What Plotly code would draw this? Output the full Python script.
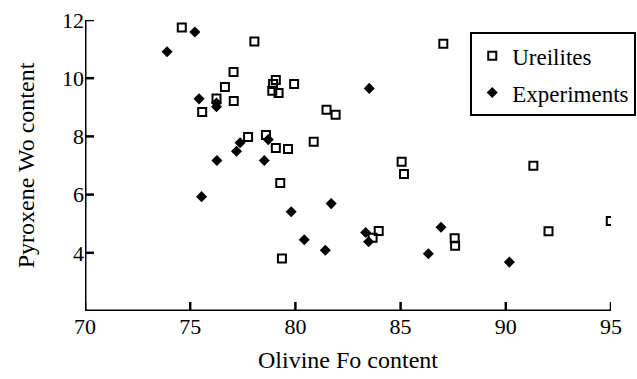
import plotly.graph_objects as go

ure_x = [74.6, 78.05, 87.03, 77.06, 76.65, 79.07, 78.94, 78.9, 79.2, 79.94,
         76.25, 77.07, 75.57, 81.48, 81.91, 77.75, 78.6, 79.07, 79.65, 80.87,
         79.28, 79.36, 85.05, 85.16, 83.96, 83.67, 87.57, 87.59, 91.31, 92.03, 94.99]
ure_y = [11.74, 11.26, 11.18, 10.21, 9.70, 9.94, 9.80, 9.57, 9.49, 9.80,
         9.30, 9.22, 8.84, 8.92, 8.74, 7.98, 8.05, 7.60, 7.57, 7.82,
         6.40, 3.80, 7.13, 6.71, 4.75, 4.52, 4.50, 4.24, 6.99, 4.74, 5.09]

exp_x = [73.9, 75.22, 75.42, 76.25, 76.25, 77.37, 77.2, 78.71, 76.27, 78.52,
         75.54, 83.51, 81.70, 79.80, 83.34, 83.48, 80.42, 81.42, 86.32, 86.92, 90.17]
exp_y = [10.91, 11.59, 9.29, 9.15, 9.02, 7.78, 7.49, 7.89, 7.17, 7.17,
         5.93, 9.65, 5.69, 5.41, 4.70, 4.38, 4.45, 4.09, 3.97, 4.88, 3.68]

x_ticks = [70, 75, 80, 85, 90, 95]
y_ticks = [4, 6, 8, 10, 12]
x_range = [70, 95]
y_range = [2, 12]

FONT = "Liberation Serif, Times New Roman, serif"
W, H = 637, 379
M = dict(l=85, r=26, t=20, b=68)
TICKLEN = 9
# tick length in data units of each axis
tl_x = TICKLEN * (x_range[1] - x_range[0]) / (W - M["l"] - M["r"])
tl_y = TICKLEN * (y_range[1] - y_range[0]) / (H - M["t"] - M["b"])

fig = go.Figure()

# axis frame (left and bottom) and inward ticks as line traces on the axes' scales
frame_x = [x_range[0], x_range[0], x_range[1]]
frame_y = [y_range[1], y_range[0], y_range[0]]
fig.add_trace(go.Scatter(x=frame_x, y=frame_y, mode="lines", showlegend=False,
                         hoverinfo="skip", cliponaxis=False,
                         line=dict(color="black", width=3)))
tx, ty = [], []
for xt in x_ticks:
    tx += [xt, xt, None]
    ty += [y_range[0], y_range[0] + tl_y, None]
for yt in y_ticks:
    tx += [x_range[0], x_range[0] + tl_x, None]
    ty += [yt, yt, None]
fig.add_trace(go.Scatter(x=tx, y=ty, mode="lines", showlegend=False,
                         hoverinfo="skip", cliponaxis=False,
                         line=dict(color="black", width=2.5)))

fig.add_trace(go.Scatter(
    x=ure_x, y=ure_y, mode="markers", name="Ureilites", legendgroup="a",
    marker=dict(symbol="square-open", size=8, color="black", line=dict(width=2, color="black")),
))
fig.add_trace(go.Scatter(
    x=exp_x, y=exp_y, mode="markers", name="Experiments", legendgroup="b",
    marker=dict(symbol="diamond", size=8.5, color="black", line=dict(width=0)),
))

fig.update_layout(
    width=W, height=H,
    margin=dict(**M, autoexpand=False),
    paper_bgcolor="white", plot_bgcolor="white",
    font=dict(family=FONT, color="black"),
    showlegend=True,
    legend=dict(
        x=1.048, y=0.958, xanchor="right", yanchor="top",
        bgcolor="white", bordercolor="black", borderwidth=2,
        font=dict(family=FONT, size=23, color="black"),
        traceorder="grouped", tracegroupgap=4,
        itemwidth=30,
    ),
)
fig.update_xaxes(
    range=x_range, tickvals=x_ticks,
    showline=False, ticks="",
    showgrid=False, zeroline=False,
    tickfont=dict(family=FONT, size=22, color="black"),
    title=dict(text="Olivine Fo content", font=dict(family=FONT, size=24, color="black"), standoff=13),
)
fig.update_yaxes(
    range=y_range, tickvals=y_ticks,
    showline=False, ticks="",
    showgrid=False, zeroline=False,
    tickfont=dict(family=FONT, size=22, color="black"),
    title=dict(text="Pyroxene Wo content", font=dict(family=FONT, size=24, color="black"), standoff=20),
)

fig.write_html("out.html")
